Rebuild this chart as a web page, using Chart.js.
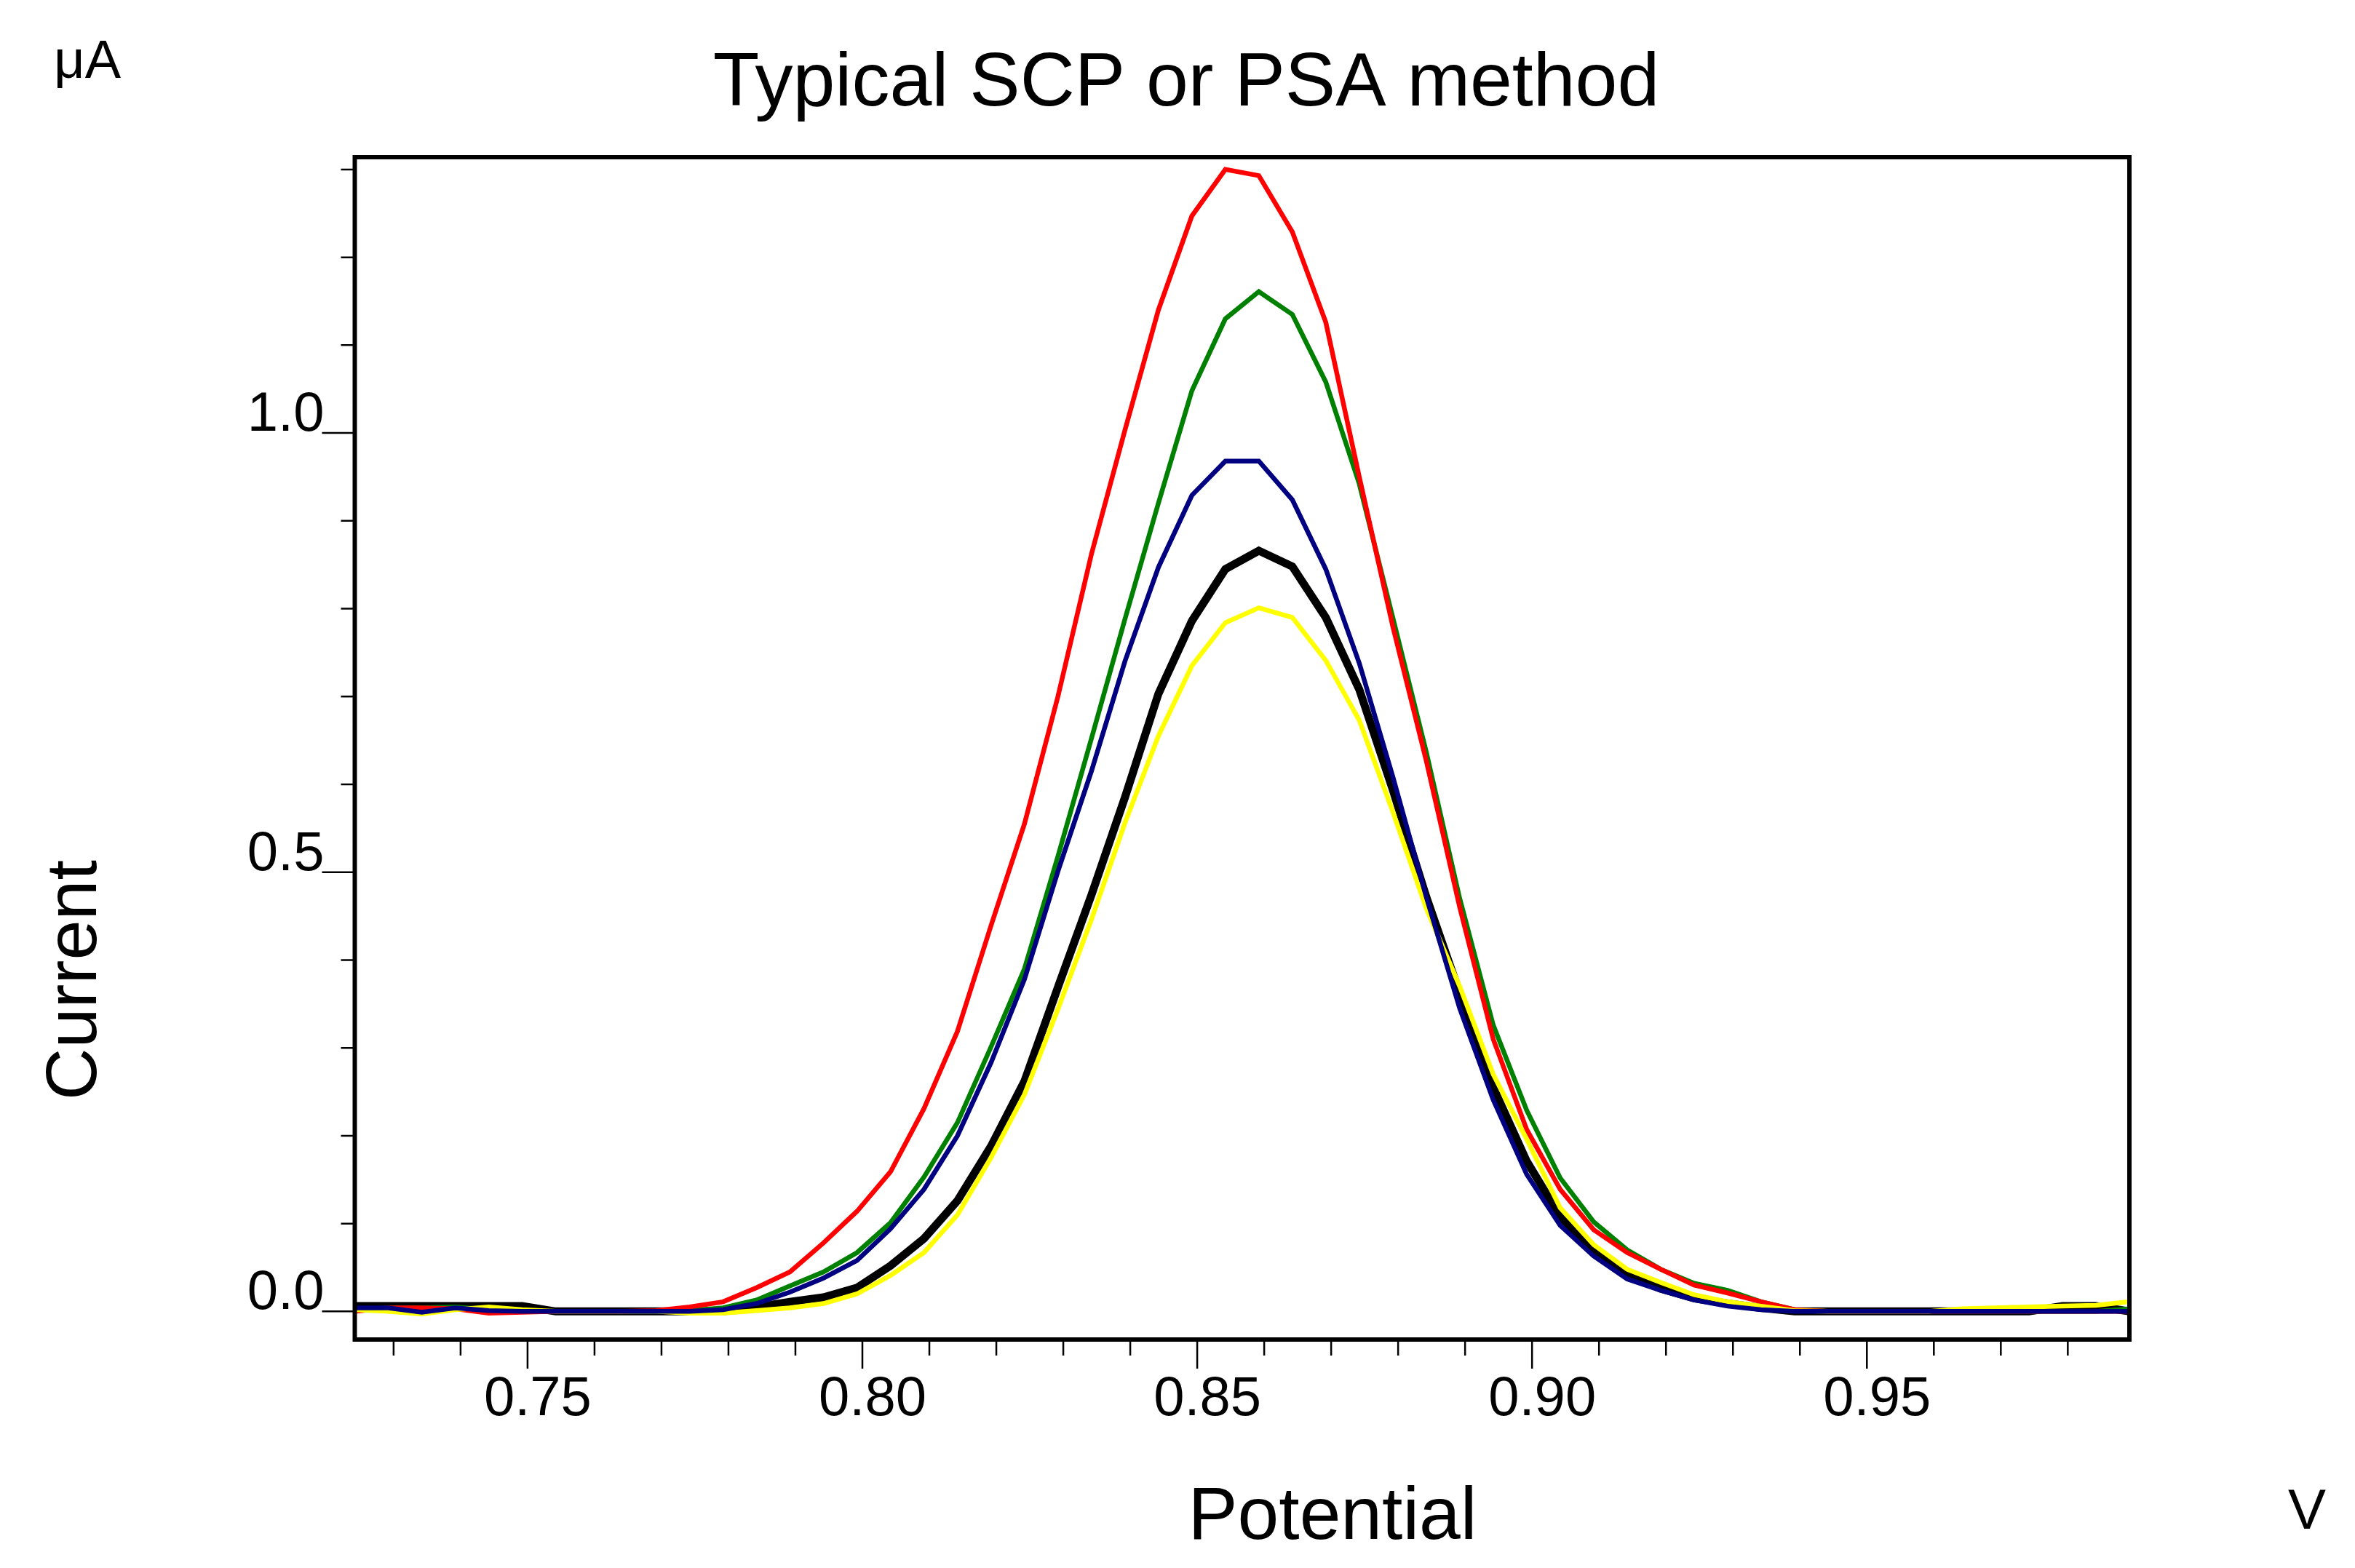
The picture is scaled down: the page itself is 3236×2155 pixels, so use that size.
<!DOCTYPE html>
<html>
<head>
<meta charset="utf-8">
<script src="https://cdn.jsdelivr.net/npm/chart.js@4.4.1/dist/chart.umd.min.js"></script>
<style>
html,body{margin:0;padding:0;background:#fff;}
canvas{display:block;}
</style>
</head>
<body>
<canvas id="c" width="3236" height="2155" style="width:3236px;height:2155px"></canvas>
<script>
// ---- data ----
const potentials = [
  0.7242,0.7292,0.7342,0.7392,0.7442,0.7492,0.7542,0.7592,0.7642,0.7692,
  0.7742,0.7792,0.7842,0.7892,0.7942,0.7992,0.8042,0.8092,0.8142,0.8192,
  0.8242,0.8292,0.8342,0.8392,0.8442,0.8492,0.8542,0.8592,0.8642,0.8692,
  0.8742,0.8792,0.8842,0.8892,0.8942,0.8992,0.9042,0.9092,0.9142,0.9192,
  0.9242,0.9292,0.9342,0.9392,0.9442,0.9492,0.9542,0.9592,0.9642,0.9692,
  0.9742,0.9792,0.9842,0.9892
];
const currentRed = [
  0.000,0.004,0.004,0.003,-0.002,-0.001,0.000,0.000,0.000,0.001,
  0.005,0.011,0.027,0.045,0.078,0.114,0.159,0.231,0.319,0.439,
  0.555,0.700,0.862,1.003,1.140,1.247,1.300,1.293,1.229,1.126,
  0.950,0.780,0.627,0.460,0.310,0.207,0.139,0.093,0.067,0.048,
  0.030,0.021,0.011,0.002,0.000,0.000,0.000,0.000,0.000,0.000,
  0.000,0.000,0.000,0.000
];
const currentGreen = [
  0.002,0.004,0.004,0.005,0.002,0.000,0.000,0.000,0.000,0.000,
  0.001,0.004,0.013,0.029,0.045,0.067,0.101,0.153,0.215,0.301,
  0.390,0.518,0.652,0.788,0.920,1.048,1.130,1.161,1.135,1.058,
  0.942,0.790,0.637,0.470,0.326,0.229,0.152,0.102,0.070,0.048,
  0.032,0.024,0.011,0.002,0.000,0.000,0.000,0.000,0.000,0.000,
  0.000,0.000,0.000,0.003
];
const currentBlue = [
  0.004,0.004,-0.001,0.004,0.001,0.000,0.000,0.000,0.000,0.000,
  0.000,0.002,0.009,0.022,0.038,0.058,0.094,0.139,0.200,0.283,
  0.378,0.501,0.615,0.740,0.847,0.929,0.968,0.968,0.924,0.845,
  0.738,0.609,0.472,0.345,0.241,0.156,0.098,0.063,0.037,0.024,
  0.013,0.006,0.002,0.000,0.000,0.000,0.000,0.000,0.000,0.000,
  0.000,0.000,0.000,0.000
];
const currentBlack = [
  0.006,0.006,0.006,0.006,0.006,0.006,0.000,0.000,0.000,0.000,
  0.000,0.000,0.005,0.011,0.016,0.027,0.052,0.083,0.126,0.188,
  0.262,0.369,0.474,0.585,0.703,0.786,0.845,0.866,0.848,0.790,
  0.708,0.594,0.472,0.362,0.255,0.171,0.108,0.069,0.041,0.026,
  0.015,0.009,0.004,0.000,0.000,0.000,0.000,0.000,0.000,0.000,
  0.000,0.006,0.006,0.000
];
const currentYellow = [
  0.002,0.000,-0.003,0.002,0.005,0.002,0.000,0.000,0.000,0.000,
  -0.002,-0.002,0.001,0.004,0.009,0.020,0.041,0.067,0.110,0.175,
  0.247,0.344,0.446,0.556,0.655,0.735,0.784,0.801,0.790,0.741,
  0.673,0.569,0.459,0.370,0.270,0.196,0.118,0.076,0.048,0.033,
  0.019,0.011,0.006,0.001,0.000,0.000,0.000,0.000,0.003,0.004,
  0.005,0.006,0.007,0.011
];
const xTickValues = [0.75, 0.80, 0.85, 0.90, 0.95];
const xMinorTickValues = [0.73,0.74,0.76,0.77,0.78,0.79,0.81,0.82,0.83,0.84,0.86,0.87,0.88,0.89,0.91,0.92,0.93,0.94,0.96,0.97,0.98];
const yTickValues = [0.0, 0.5, 1.0];
const yMinorTickValues = [0.1,0.2,0.3,0.4,0.6,0.7,0.8,0.9,1.1,1.2,1.3];
const chartTitle = 'Typical SCP or PSA method';
const xAxisTitle = 'Potential';
const yAxisTitle = 'Current';
const xUnit = 'V';
const yUnit = 'μA';

// ---- chart ----
const FONT = "'Liberation Sans', Arial, Helvetica, sans-serif";
Chart.defaults.font.family = FONT;
Chart.defaults.color = '#000';

function pts(arr) { return potentials.map((p, i) => ({x: p, y: arr[i]})); }

const framePlugin = {
  id: 'frame',
  afterDatasetsDraw(chart) {
    const {ctx, chartArea: a, scales: {x, y}} = chart;
    ctx.save();
    ctx.strokeStyle = '#000';
    ctx.lineWidth = 2.5;
    ctx.beginPath();
    xMinorTickValues.forEach(v => { const px = x.getPixelForValue(v); ctx.moveTo(px, a.bottom); ctx.lineTo(px, a.bottom + 22); });
    xTickValues.forEach(v => { const px = x.getPixelForValue(v); ctx.moveTo(px, a.bottom); ctx.lineTo(px, a.bottom + 40); });
    yMinorTickValues.forEach(v => { const py = y.getPixelForValue(v); ctx.moveTo(a.left, py); ctx.lineTo(a.left - 19, py); });
    yTickValues.forEach(v => { const py = y.getPixelForValue(v); ctx.moveTo(a.left, py); ctx.lineTo(a.left - 45, py); });
    ctx.stroke();
    ctx.lineWidth = 6;
    ctx.strokeRect(a.left, a.top, a.right - a.left, a.bottom - a.top);
    ctx.restore();
  },
  afterDraw(chart) {
    const ctx = chart.ctx;
    ctx.save();
    ctx.fillStyle = '#000';
    ctx.textBaseline = 'alphabetic';
    ctx.textAlign = 'center';
    ctx.font = '104px ' + FONT;
    ctx.fillText(chartTitle, 1630, 145);
    ctx.font = '102px ' + FONT;
    ctx.fillText(xAxisTitle, 1831, 2115);
    ctx.save();
    ctx.translate(132, 1347);
    ctx.rotate(-Math.PI / 2);
    ctx.font = '99px ' + FONT;
    ctx.fillText(yAxisTitle, 0, 0);
    ctx.restore();
    ctx.font = '74px ' + FONT;
    ctx.textAlign = 'left';
    ctx.fillText(yUnit, 74, 107);
    ctx.textAlign = 'center';
    ctx.font = '78px ' + FONT;
    ctx.fillText(xUnit, 3170, 2101);
    ctx.restore();
  }
};

new Chart(document.getElementById('c'), {
  type: 'line',
  data: {
    datasets: [
      {label: 'blue', data: pts(currentBlue), borderColor: '#000080', borderWidth: 6.5, order: 1},
      {label: 'yellow', data: pts(currentYellow), borderColor: '#FFFF00', borderWidth: 6.5, order: 2},
      {label: 'red', data: pts(currentRed), borderColor: '#FF0000', borderWidth: 6.5, order: 3},
      {label: 'green', data: pts(currentGreen), borderColor: '#008000', borderWidth: 6.5, order: 4},
      {label: 'black', data: pts(currentBlack), borderColor: '#000000', borderWidth: 11, order: 5}
    ]
  },
  options: {
    responsive: false,
    animation: false,
    devicePixelRatio: 1,
    elements: {point: {radius: 0, hoverRadius: 0}, line: {tension: 0, fill: false}},
    layout: {padding: {left: 0, top: 216, right: 310, bottom: 0}},
    plugins: {legend: {display: false}, title: {display: false}, tooltip: {enabled: false}},
    scales: {
      x: {
        type: 'linear', min: 0.7242, max: 0.9892, bounds: 'data',
        afterBuildTicks: (s) => { s.ticks = xTickValues.map(v => ({value: v})); },
        afterFit: (s) => { s.height = 314; },
        grid: {display: false, drawTicks: false},
        border: {display: false},
        ticks: {font: {size: 76}, padding: 37, labelOffset: 14, maxRotation: 0, autoSkip: false,
                callback: (v) => Number(v).toFixed(2)}
      },
      y: {
        type: 'linear', min: -0.032, max: 1.314, bounds: 'data',
        afterBuildTicks: (s) => { s.ticks = yTickValues.map(v => ({value: v})); },
        afterFit: (s) => { s.width = 487.5; },
        grid: {display: false, drawTicks: false},
        border: {display: false},
        ticks: {font: {size: 76}, padding: 42, labelOffset: -24, autoSkip: false,
                callback: (v) => Number(v).toFixed(1)}
      }
    }
  },
  plugins: [framePlugin]
});
</script>
</body>
</html>
